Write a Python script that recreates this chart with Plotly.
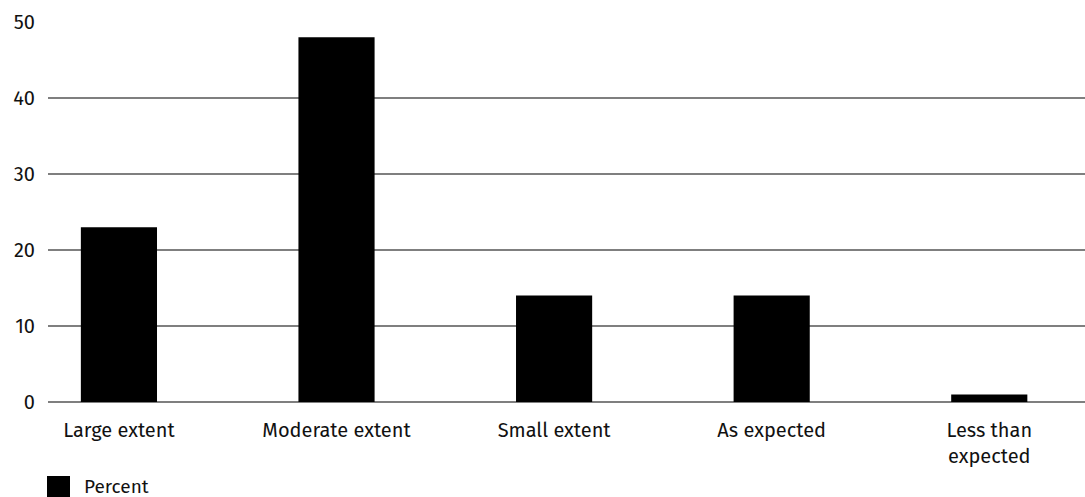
import plotly.graph_objects as go

categories = ["Large extent", "Moderate extent", "Small extent", "As expected", "Less than<br>expected"]
percent = [23, 48, 14, 14, 1]
y_ticks = [0, 10, 20, 30, 40, 50]
series_name = "Percent"

fig = go.Figure()
fig.add_trace(go.Bar(
    x=list(range(len(categories))), y=percent, name=series_name,
    marker=dict(color="#000000", line=dict(width=0)), width=0.35, showlegend=False,
))

PLOT_L, PLOT_R, PLOT_T, PLOT_B = 48, 1085, 22, 402
def px_x(p):
    return (p - PLOT_L) / (PLOT_R - PLOT_L)
def px_y(p):
    return (PLOT_B - p) / (PLOT_B - PLOT_T)

# legend key (drawn as layout decoration)
fig.add_shape(type="rect", xref="paper", yref="paper",
              x0=px_x(47), x1=px_x(70), y0=px_y(497), y1=px_y(476),
              fillcolor="#000000", line=dict(width=0))
fig.add_annotation(text=series_name, xref="paper", yref="paper",
                   x=px_x(82), y=px_y(487), xanchor="left", yanchor="middle",
                   showarrow=False, font=dict(size=19))

fig.update_layout(
    width=1085, height=497,
    margin=dict(l=48, r=0, t=22, b=95, autoexpand=False),
    paper_bgcolor="white", plot_bgcolor="white",
    font=dict(family="Fira Sans, Noto Sans, sans-serif", size=20, color="#111111"),
    showlegend=False,
    xaxis=dict(
        range=[-0.326, 4.44], tickmode="array", tickvals=list(range(len(categories))),
        ticktext=categories, showgrid=False, zeroline=False, showline=False,
        ticks="", ticklen=0, automargin=False, ticklabelstandoff=14,
    ),
    yaxis=dict(
        range=[0, 50], tickvals=y_ticks, showgrid=True, gridcolor="#7f7f7f", gridwidth=1.5,
        zeroline=True, zerolinecolor="#7f7f7f", zerolinewidth=1.5,
        showline=False, ticks="", ticklabelstandoff=12, automargin=False,
    ),
)

fig.write_html("out.html", post_script="document.body.style.margin='0';",
               config={"displayModeBar": False})
